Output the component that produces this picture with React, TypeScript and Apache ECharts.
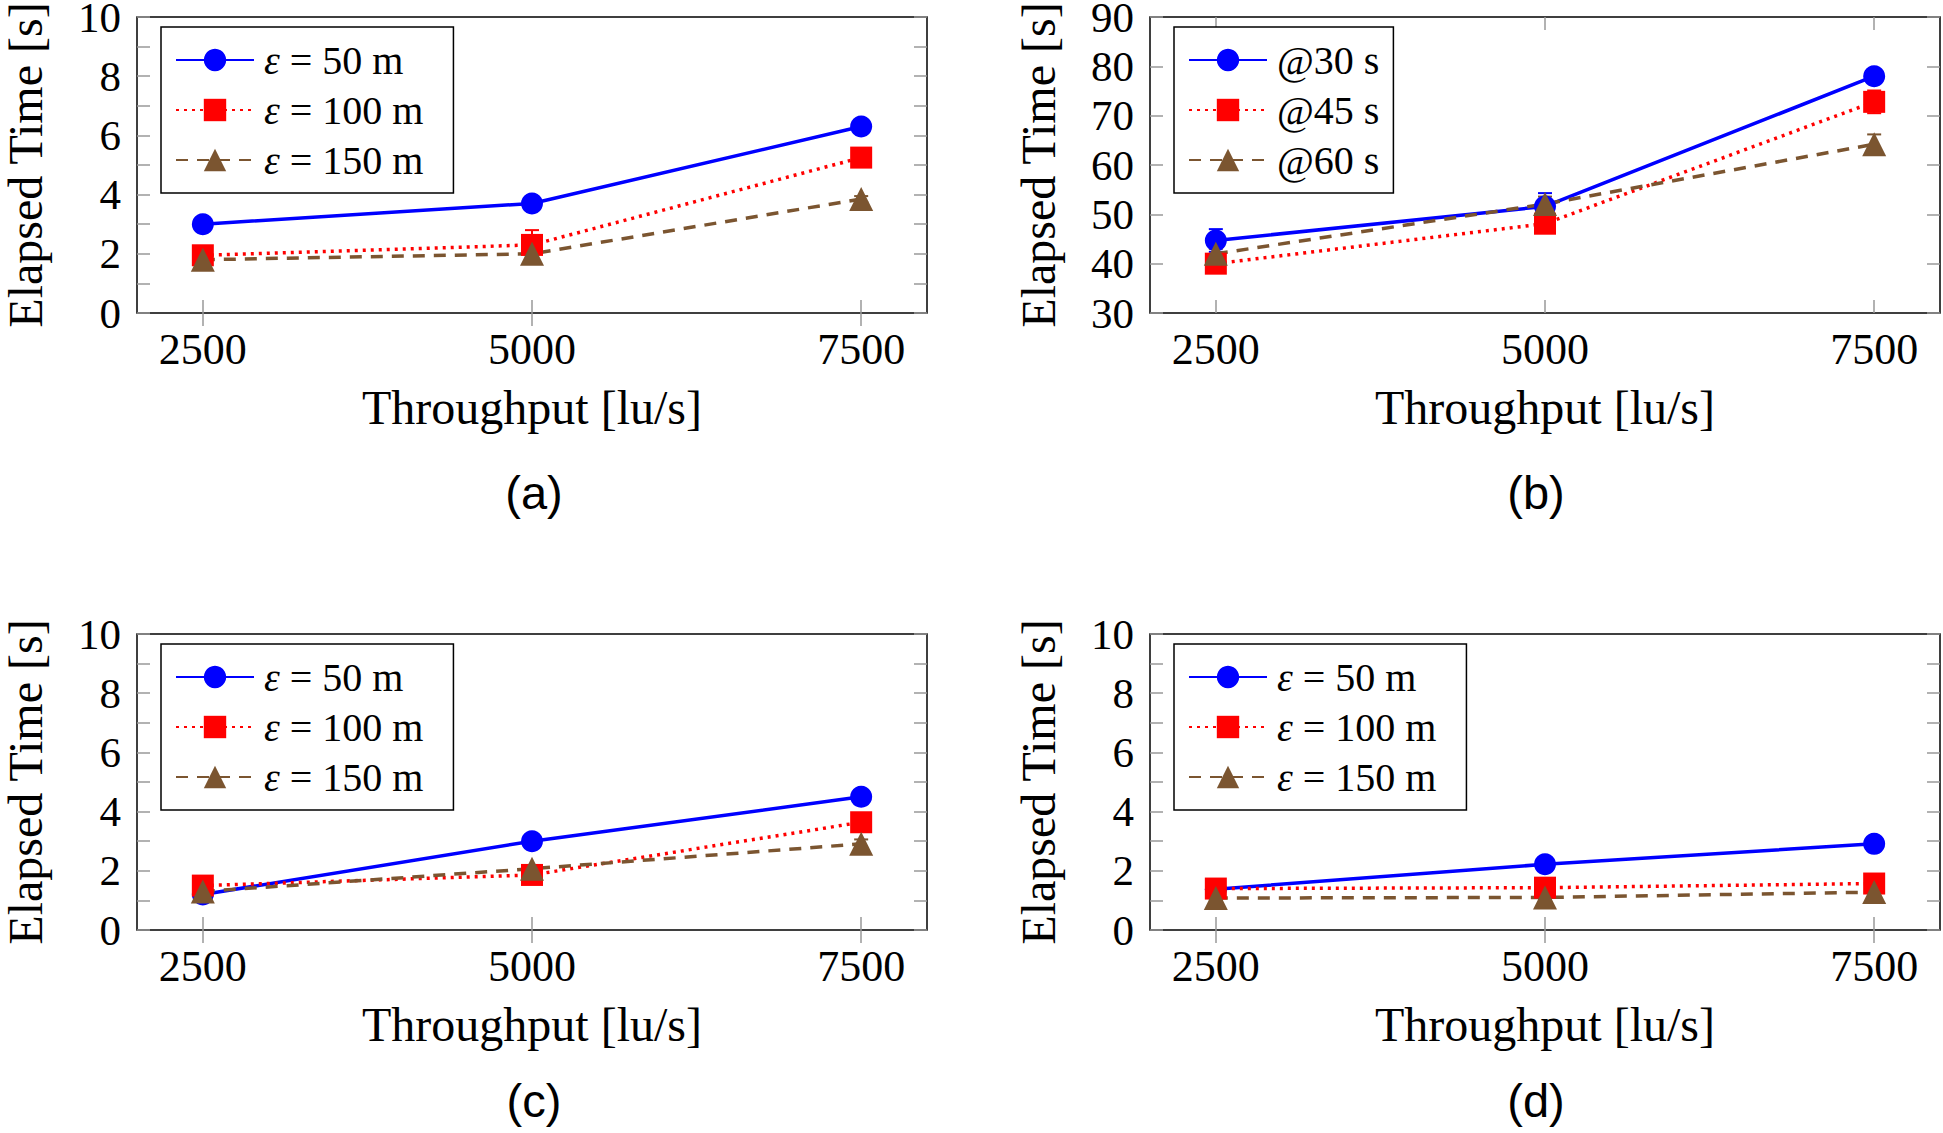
import React, { useEffect, useRef } from "react";
import * as echarts from "echarts";

// ---------- data ----------
const throughput = [2500, 5000, 7500];
const xTicks = [2500, 5000, 7500];
const epsNames = ["ε = 50 m", "ε = 100 m", "ε = 150 m"];
const atNames = ["@30 s", "@45 s", "@60 s"];

// panel (a)
const a50 = [3.0, 3.7, 6.3];
const a100 = [1.95, 2.3, 5.25];
const a150 = [1.8, 2.0, 3.85];
const a50Err = [0.1, 0.15, 0.15];
const a100Err = [0.3, 0.5, 0.2];
const a150Err = [0.1, 0.1, 0.1];

// panel (b)
const b30 = [44.7, 51.6, 78.0];
const b45 = [40.0, 48.1, 72.8];
const b60 = [42.0, 52.1, 64.2];
const b30Err = [2.3, 2.7, 1.2];
const b45Err = [0.8, 1.0, 2.3];
const b60Err = [1.0, 1.5, 2.0];

// panel (c)
const c50 = [1.2, 3.0, 4.5];
const c100 = [1.5, 1.86, 3.64];
const c150 = [1.3, 2.07, 2.91];
const c50Err = [0.1, 0.15, 0.2];
const c100Err = [0.1, 0.1, 0.25];
const c150Err = [0.05, 0.1, 0.15];

// panel (d)
const d50 = [1.38, 2.22, 2.91];
const d100 = [1.4, 1.43, 1.57];
const d150 = [1.08, 1.1, 1.28];
const d50Err = [0.05, 0.1, 0.1];
const d100Err = [0.1, 0.1, 0.1];
const d150Err = [0.05, 0.05, 0.15];

const captions = ["(a)", "(b)", "(c)", "(d)"];
const yLimits = [
  [0, 10, 2],
  [30, 90, 10],
  [0, 10, 2],
  [0, 10, 2],
];

// ---------- styles ----------
const COLORS = ["#0000ff", "#ff0000", "#7b5530"];
const SYMBOLS = ["circle", "rect", "triangle"];
const DASH: any[] = ["solid", [3, 5], [12, 9]];
const SERIF = "Liberation Serif";
const SANS = "Liberation Sans";
const GREY = "#999999";

const panels = [
  { names: epsNames, values: [a50, a100, a150], errs: [a50Err, a100Err, a150Err], left: 137, top: 17, minor: true, capX: 529, capY: 464, legendLeft: 161, legendTop: 27, padR: 30 },
  { names: atNames, values: [b30, b45, b60], errs: [b30Err, b45Err, b60Err], left: 1150, top: 17, minor: false, capX: 1531, capY: 464, legendLeft: 1174, legendTop: 27, padR: 14 },
  { names: epsNames, values: [c50, c100, c150], errs: [c50Err, c100Err, c150Err], left: 137, top: 634, minor: true, capX: 529, capY: 1072, legendLeft: 161, legendTop: 644, padR: 30 },
  { names: epsNames, values: [d50, d100, d150], errs: [d50Err, d100Err, d150Err], left: 1150, top: 634, minor: true, capX: 1531, capY: 1072, legendLeft: 1174, legendTop: 644, padR: 30 },
];

function buildOption() {
  const grid: any[] = [];
  const xAxis: any[] = [];
  const yAxis: any[] = [];
  const series: any[] = [];
  const legend: any[] = [];
  const title: any[] = [];

  const tick = { show: true, inside: true, length: 13, lineStyle: { color: GREY, width: 1.5 } };

  panels.forEach((p, i) => {
    grid.push({
      left: p.left,
      top: p.top,
      width: 790,
      height: 296,
      show: true,
      borderColor: "#000",
      borderWidth: 1.5,
      backgroundColor: "transparent",
      containLabel: false,
      outerBoundsMode: "none",
    });
    const [yMin, yMax, yInt] = yLimits[i];
    const xBase = {
      type: "value",
      gridIndex: i,
      min: 2000,
      max: 8000,
      axisLine: { show: false },
      splitLine: { show: false },
      axisTick: { ...tick, customValues: xTicks },
    };
    xAxis.push({
      ...xBase,
      position: "bottom",
      axisLabel: {
        customValues: xTicks,
        formatter: (v: number) => String(v),
        fontFamily: SERIF,
        fontSize: 44,
        color: "#000",
        margin: 14,
      },
      name: "Throughput [lu/s]",
      nameLocation: "middle",
      nameGap: 70,
      nameMoveOverlap: false,
      nameTextStyle: { fontFamily: SERIF, fontSize: 48, color: "#000" },
    });
    xAxis.push({ ...xBase, position: "top", axisLabel: { show: false } });

    const yBase = {
      type: "value",
      gridIndex: i,
      min: yMin,
      max: yMax,
      interval: yInt,
      axisLine: { show: false },
      splitLine: { show: false },
      axisTick: tick,
      minorTick: { show: p.minor, splitNumber: 2, length: 13, lineStyle: { color: GREY, width: 1.5 } },
      minorSplitLine: { show: false },
    };
    yAxis.push({
      ...yBase,
      position: "left",
      axisLabel: {
        formatter: (v: number) => String(v),
        fontFamily: SERIF,
        fontSize: 43,
        lineHeight: 32,
        color: "#000",
        margin: 16,
      },
      name: "Elapsed Time [s]",
      nameLocation: "middle",
      nameGap: 88,
      nameMoveOverlap: false,
      nameTextStyle: { fontFamily: SERIF, fontSize: 48, color: "#000" },
    });
    yAxis.push({ ...yBase, position: "right", axisLabel: { show: false } });

    p.values.forEach((vals, k) => {
      const color = COLORS[k];
      const errs = p.errs[k];
      // error bars
      series.push({
        type: "custom",
        xAxisIndex: 2 * i,
        yAxisIndex: 2 * i,
        z: 3,
        silent: true,
        data: throughput.map((x, j) => [x, vals[j], errs[j]]),
        renderItem: (params: any, api: any) => {
          const x = api.value(0);
          const y = api.value(1);
          const e = api.value(2);
          const top = api.coord([x, y + e]);
          const bot = api.coord([x, y - e]);
          const w = 7;
          const style = { stroke: color, lineWidth: 2, fill: null };
          return {
            type: "group",
            children: [
              { type: "line", shape: { x1: top[0], y1: top[1], x2: bot[0], y2: bot[1] }, style },
              { type: "line", shape: { x1: top[0] - w, y1: top[1], x2: top[0] + w, y2: top[1] }, style },
              { type: "line", shape: { x1: bot[0] - w, y1: bot[1], x2: bot[0] + w, y2: bot[1] }, style },
            ],
          };
        },
      });
      series.push({
        type: "line",
        name: p.names[k],
        xAxisIndex: 2 * i,
        yAxisIndex: 2 * i,
        z: 4,
        data: throughput.map((x, j) => [x, vals[j]]),
        symbol: SYMBOLS[k],
        symbolSize: k === 2 ? 24 : 22,
        showSymbol: true,
        color,
        itemStyle: { color },
        lineStyle: { color, width: 3.5, type: DASH[k] },
        emphasis: { disabled: true },
      });
    });

    legend.push({
      show: true,
      orient: "vertical",
      left: p.legendLeft,
      top: p.legendTop,
      data: p.names,
      backgroundColor: "#fff",
      borderColor: "#000",
      borderWidth: 1.5,
      borderRadius: 0,
      padding: [13, p.padR, 13, 14],
      itemGap: 10,
      itemWidth: 78,
      itemHeight: 28,
      selectedMode: false,
      formatter: (name: string) => name.replace("ε", "{e|ε}"),
      textStyle: {
        fontFamily: SERIF,
        fontSize: 40,
        color: "#000",
        lineHeight: 40,
        padding: [0, 0, 0, 5],
        rich: {
          e: { fontFamily: SERIF, fontSize: 40, fontStyle: "italic", color: "#000", lineHeight: 40 },
        },
      },
    });

    title.push({
      text: captions[i],
      left: p.capX,
      top: p.capY,
      textAlign: "center",
      textStyle: { fontFamily: SANS, fontSize: 47, fontWeight: "normal", color: "#000" },
    });
  });

  return {
    animation: false,
    backgroundColor: "#fff",
    title,
    legend,
    grid,
    xAxis,
    yAxis,
    series,
  };
}

export default function App() {
  const ref = useRef<HTMLDivElement>(null);
  useEffect(() => {
    if (!ref.current) return;
    const chart = echarts.init(ref.current, null, { renderer: "svg" });
    chart.setOption(buildOption() as any);
    return () => chart.dispose();
  }, []);
  return (
    <div
      ref={ref}
      style={{ position: "absolute", left: 0, top: 0, width: 1943, height: 1133, background: "#fff" }}
    />
  );
}
